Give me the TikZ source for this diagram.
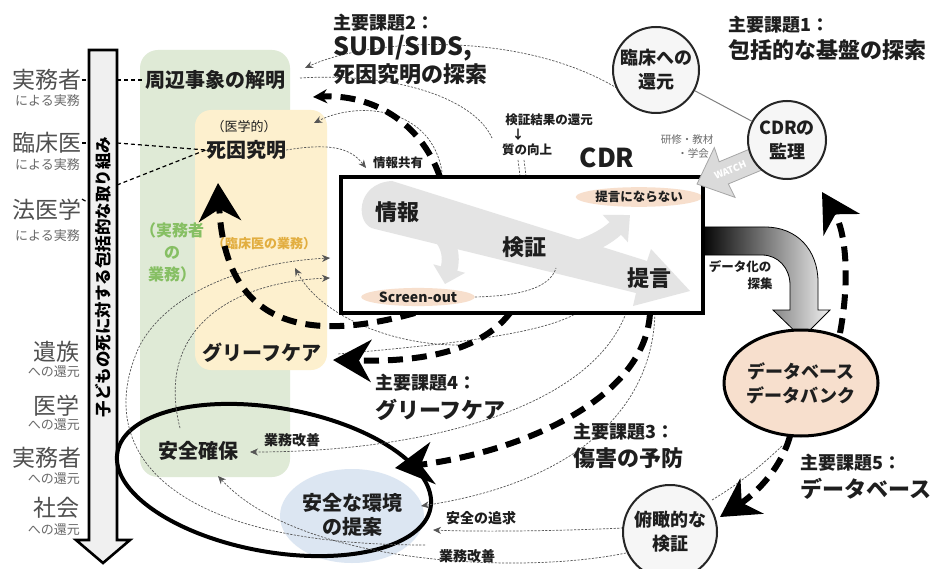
\documentclass[tikz,border=0pt]{standalone}
\usepackage{fontspec}
\setmainfont{Noto Sans CJK JP}
\usetikzlibrary{arrows.meta,shapes.geometric,calc}
\definecolor{gbg}{HTML}{DFEAD6}
\definecolor{ybg}{HTML}{FDF0CE}
\definecolor{bbg}{HTML}{DCE6F2}
\definecolor{pbg}{HTML}{F7DFCD}
\definecolor{cbg}{HTML}{F6F6F6}
\definecolor{garr}{HTML}{E4E4E4}
\definecolor{warr}{HTML}{DADADA}
\definecolor{lgray}{HTML}{505050}
\definecolor{sgray}{HTML}{6A6A6A}
\definecolor{gtxt}{HTML}{86BF63}
\definecolor{ytxt}{HTML}{E2AE40}
\definecolor{thinc}{HTML}{555555}
\definecolor{hdc}{HTML}{1E1E1E}
\newcommand\fsz[2]{\fontsize{#1}{#2}\selectfont}
\tikzset{
  bigdash/.style={line width=6pt, dash pattern=on 15pt off 9pt, -{Stealth[length=38pt,width=42pt,inset=12pt]}},
  smalldash/.style={line width=6pt, dash pattern=on 15pt off 9pt, -{Stealth[length=14pt,width=14pt]}},
  thindash/.style={draw=thinc, line width=0.7pt, dash pattern=on 2.2pt off 1.4pt},
  thinarr/.style={thindash, -{Stealth[length=8pt,width=7pt]}},
  conndash/.style={line width=1.2pt, dash pattern=on 4pt off 3pt},
  llab/.style={inner sep=0, text=lgray, font=\fsz{23}{26}},
  slab/.style={inner sep=0, text=sgray, font=\fsz{13}{15}},
  blab/.style={inner sep=0, text=hdc, font=\fsz{20}{24}\bfseries, align=center},
  hdone/.style={inner sep=0, anchor=west, text=hdc, font=\fsz{18}{20}\bfseries},
  hdtwo/.style={inner sep=0, anchor=west, text=hdc, font=\fsz{22}{24}\bfseries},
  stext/.style={inner sep=0, text=hdc, font=\fsz{12.5}{14}\bfseries},
  inbig/.style={inner sep=0, text=hdc, font=\fsz{22}{24}\bfseries},
  pinkel/.style={ellipse, fill=pbg, inner sep=1pt, text=hdc},
  circ/.style={circle, draw=black!85, line width=2pt, fill=cbg, inner sep=0, align=center, text=hdc, font=\fsz{18}{24}\bfseries},
}
\begin{document}
\begin{tikzpicture}[x=1pt,y=-1pt]
\useasboundingbox (0,0) rectangle (941,569);
\fill[white] (0,0) rectangle (941,569);

% panels
\fill[gbg, rounded corners=18pt] (140,50) rectangle (290,477);
\fill[ybg, rounded corners=16pt] (195,110) rectangle (327,370);

% vertical arrow
\draw[line width=2.6pt, fill=gray!12, line join=miter] (89,50) -- (117,50) -- (117,540) -- (130,540) -- (103,563) -- (76,540) -- (89,540) -- cycle;
\node[rotate=90, inner sep=0, font=\fsz{16.5}{18}\bfseries] (vtext) at (103,277) {子どもの死に対する包括的な取り組み};

% left labels
\node[llab, anchor=east] (l1) at (82,80) {実務者};
\node[slab, anchor=east] (l1s) at (80,101) {による実務};
\node[llab, anchor=east] (l2) at (82,143) {臨床医};
\node[slab, anchor=east] (l2s) at (80,165) {による実務};
\node[llab, anchor=east] (l3) at (82,210) {法医学};
\node[slab, anchor=east] (l3s) at (80,236) {による実務};
\node[llab, anchor=east] (r1) at (80,352) {遺族};
\node[slab, anchor=east] (r1s) at (80,372) {への還元};
\node[llab, anchor=east] (r2) at (80,406) {医学};
\node[slab, anchor=east] (r2s) at (80,425) {への還元};
\node[llab, anchor=east] (r3) at (82,458) {実務者};
\node[slab, anchor=east] (r3s) at (80,479) {への還元};
\node[llab, anchor=east] (r4) at (80,508) {社会};
\node[slab, anchor=east] (r4s) at (80,530) {への還元};

% panel texts
\node[blab] (shuhen) at (215,80) {周辺事象の解明};
\node[inner sep=0, text=hdc, font=\fsz{13}{15}] (igaku) at (244,127) {（医学的）};
\node[blab] (shiin) at (246,150) {死因究明};
\node[inner sep=0, text=gtxt, font=\fsz{16}{22}\bfseries, align=center] (jitsu) at (172,252) {（実務者\\の\\業務）};
\node[inner sep=0, text=ytxt, font=\fsz{13}{15}\bfseries] (rgyomu) at (264,244) {（臨床医の業務）};
\node[blab] (grief) at (262,353) {グリーフケア};

% connectors from the left
\coordinate (sL1) at (89,80);  \coordinate (sR1) at (117,80);
\coordinate (sL2) at (89,143); \coordinate (sR2) at (117,143);
\coordinate (sL3) at (89,203); \coordinate (sR3) at (117,185);
\draw[conndash] (l1.east) -- (sL1);
\draw[conndash] (sR1) -- (shuhen.west);
\draw[conndash] (l2.east) -- (sL2);
\draw[conndash] (sR2) -- (shiin.west);
\draw[conndash] (l3.north east) -- (sL3);
\draw[conndash] (sR3) -- (shiin.west);

% safety ellipses
\node[ellipse, fill=bbg, minimum width=144pt, minimum height=94pt, inner sep=0] (teianbg) at (352,516) {};
\node[ellipse, draw, line width=4pt, minimum width=318pt, minimum height=144pt, rotate=-10, inner sep=0] (safe) at (274,480) {};
\node[blab] (anzen) at (198,451) {安全確保};
\node[blab] (teian) at (352,515) {安全な環境\\の提案};

% thin dashed curves
\draw[thinarr] (656,70) ++(155:43) .. controls (520,30) and (370,38) .. (305,68);
\draw[thindash] (300,78) .. controls (400,72) and (475,100) .. (492,138);
\draw[thinarr] (442,172) .. controls (432,108) and (360,100) .. (314,123);
\draw[thinarr] (shiin.east) .. controls (335,142) and (352,150) .. (366,168);
\draw[thindash] (518,160) -- (520,176);
\draw[thindash] (524,160) -- (526,176);
\draw[thindash] (577,313) .. controls (540,335) and (440,345) .. (338,354);
\draw[thinarr] (626,313) .. controls (590,410) and (420,452) .. (250,452);
\draw[thinarr] (655,313) .. controls (652,420) and (560,485) .. (421,506);
\draw[thinarr] (626,553) .. controls (520,575) and (300,565) .. (218,476);
\draw[thinarr] (623,528) .. controls (560,531) and (480,532) .. (433,530);
\draw[thinarr] (425,545) .. controls (150,545) and (95,440) .. (140,345) .. controls (170,290) and (250,262) .. (330,258);
\draw[thinarr] (180,428) .. controls (155,330) and (230,282) .. (330,278);
\draw[thinarr] (458,345) .. controls (390,345) and (320,315) .. (295,268);
\draw[thindash] (712,500) .. controls (745,480) and (765,462) .. (782,446);

% thick dashed arrows
\draw[smalldash] (440,177) .. controls (420,120) and (370,94) .. (313,97);
\draw[bigdash] (415,313) .. controls (300,345) and (225,322) .. (218,183);
\draw[bigdash] (510,313) .. controls (480,352) and (420,362) .. (333,360);
\draw[bigdash] (650,313) .. controls (645,400) and (520,452) .. (395,468);
\draw[bigdash] (840,333) .. controls (850,280) and (846,232) .. (822,192);
\draw[bigdash] (790,436) .. controls (780,472) and (752,496) .. (720,517);

% gradient arrow
\shadedraw[left color=black, right color=gray!12, draw=black, line width=0.8pt] (700,227) -- (765,227) .. controls (797,227) and (818,250) .. (818,282) -- (818,310) -- (830,310) -- (802,338) -- (773,310) -- (790,310) -- (790,285) .. controls (790,268) and (778,255) .. (762,255) -- (700,255) -- cycle;
\node[stext] (dataka) at (740,267) {データ化の};
\node[stext] (saishu) at (760,284) {探集};

% CDR box
\node[minimum width=362pt, minimum height=136pt, fill=white, inner sep=0, outer sep=0] (box) at (522,245) {};
\fill[garr] (375,229) .. controls (355,226) and (355,183) .. (392,181) -- (647,261) -- (651,249) -- (690,291) -- (633,306) -- (636,293) -- cycle;
\draw[garr, line width=17pt, -{Triangle[length=20pt,width=36pt]}] (540,258) .. controls (585,250) and (605,238) .. (630,215);
\draw[garr, line width=17pt, -{Triangle[length=16pt,width=32pt]}] (425,222) .. controls (452,238) and (452,258) .. (445,284);
\node[inbig] (joho) at (397,212) {情報};
\node[inbig] (kenshoc) at (524,247) {検証};
\node[inbig] (teigen) at (649,278) {提言};
\node[pinkel, font=\fsz{12.5}{14}\bfseries] (nara) at (639,197) {提言にならない};
\node[pinkel, font=\fsz{14}{16}\bfseries] (screen) at (418,297) {Screen-out};
\draw[thindash] (screen.east) .. controls (520,296) and (550,288) .. (556,268);
\draw[line width=4pt] (box.north west) rectangle (box.south east);

% labels near box
\node[stext] (kyoyu) at (398,163) {情報共有};
\node[stext] (kkangen) at (549,120) {検証結果の還元};
\node[stext] (darrow) at (518,135) {↓};
\node[stext] (shitsu) at (527,150) {質の向上};
\node[inner sep=0, text=hdc, font=\fsz{26}{28}\bfseries] (cdr) at (607,158) {CDR};

% WATCH arrow
\begin{scope}[shift={(697,184)}, rotate=22.6]
\draw[fill=warr, draw=gray!70, line width=0.8pt] (0,0) -- (30,-27) -- (29,-12) -- (95,-12) -- (95,12) -- (29,12) -- (30,27) -- cycle;
\node[rotate=22.6, text=white, font=\fsz{9.5}{11}\bfseries, inner sep=0] (watch) at (36,0) {WATCH};
\end{scope}
\node[inner sep=0, text=sgray, font=\fsz{10.5}{12}] (kenshu) at (687,140) {研修・教材};
\node[inner sep=0, text=sgray, font=\fsz{10.5}{12}] (gakkai) at (693,154) {・学会};

% circles
\node[circ, minimum size=86pt] (rinsho) at (656,70) {臨床への\\還元};
\node[circ, minimum size=78pt] (kanri) at (787,140) {CDRの\\監理};
\node[circ, minimum size=94pt] (fukan) at (670,532) {俯瞰的な\\検証};
\draw[gray, line width=1pt] (rinsho) -- (kanri);
\node[ellipse, draw, line width=3pt, fill=pbg, minimum width=136pt, minimum height=106pt, inner sep=0, align=center, text=hdc, font=\fsz{18}{24}\bfseries] (db) at (801,383) {データベース\\データバンク};

% small labels on thin lines
\node[inner sep=0, text=hdc, font=\fsz{14}{16}\bfseries] (kaizen1) at (292,440) {業務改善};
\node[inner sep=0, text=hdc, font=\fsz{14}{16}\bfseries] (tsuikyu) at (481,518) {安全の追求};
\node[inner sep=0, text=hdc, font=\fsz{14}{16}\bfseries] (kaizen2) at (467,556) {業務改善};

% headings
\node[hdone] (h2a) at (333,23) {主要課題2：};
\node[hdtwo, font=\fsz{25}{27}\bfseries] (h2b) at (333,48) {SUDI/SIDS,};
\node[hdtwo] (h2c) at (333,74) {死因究明の探索};
\node[hdone] (h1a) at (728,25) {主要課題1：};
\node[hdtwo] (h1b) at (728,50) {包括的な基盤の探索};
\node[hdone] (h4a) at (375,383) {主要課題4：};
\node[hdtwo] (h4b) at (375,410) {グリーフケア};
\node[hdone] (h3a) at (573,432) {主要課題3：};
\node[hdtwo] (h3b) at (573,458) {傷害の予防};
\node[hdone] (h5a) at (800,463) {主要課題5：};
\node[hdtwo] (h5b) at (800,489) {データベース};
\end{tikzpicture}
\end{document}
